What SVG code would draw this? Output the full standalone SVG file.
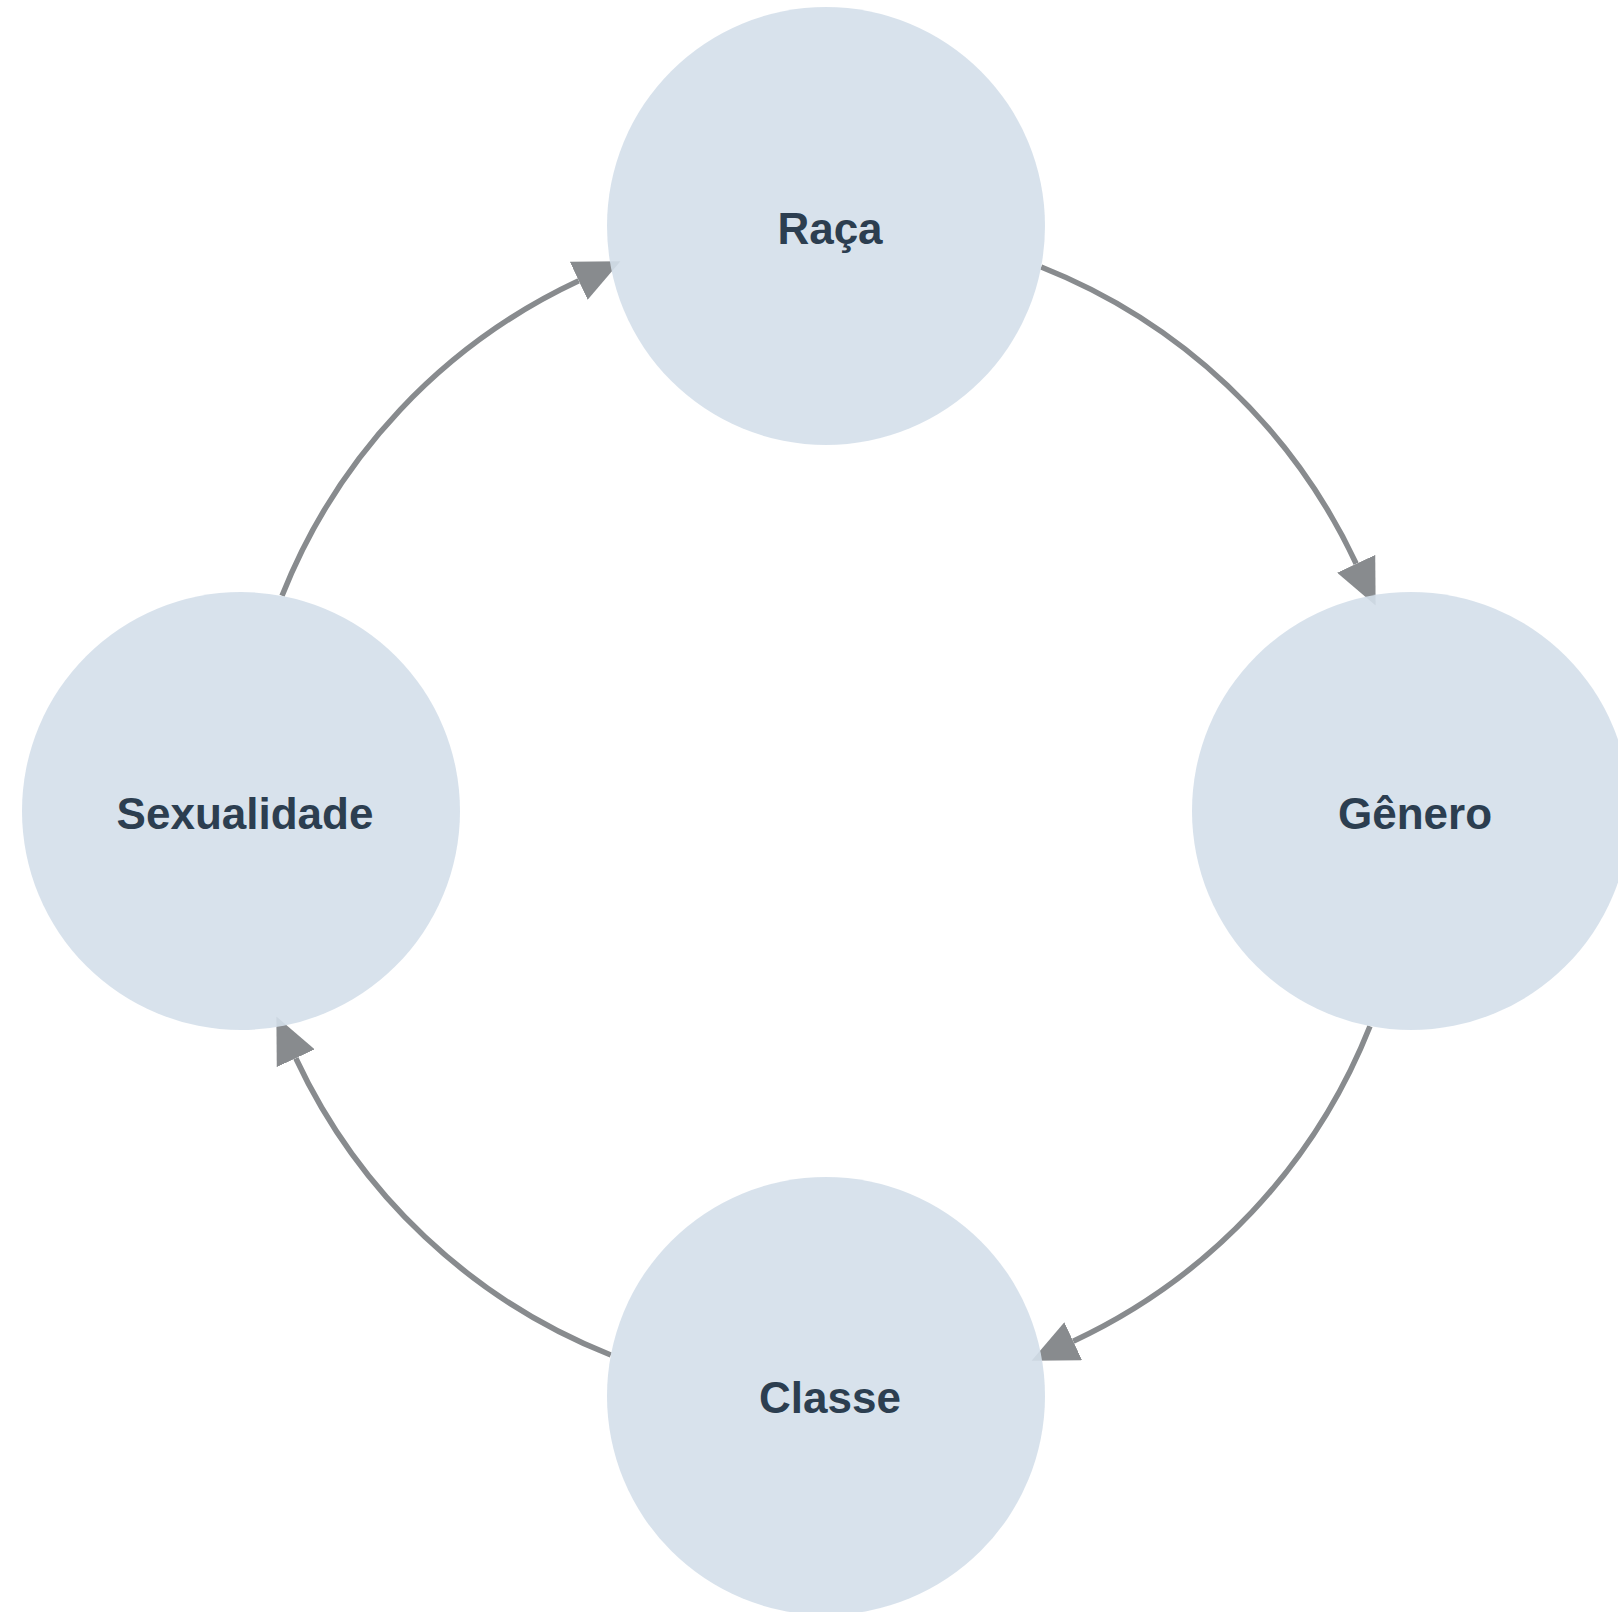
<svg xmlns="http://www.w3.org/2000/svg" width="1618" height="1612" viewBox="0 0 1618 1612">
  <style>
    .node circle { fill: #d4dfea; fill-opacity: 0.9; }
    .node text { font-family: "Liberation Sans", Arial, sans-serif; font-weight: bold; font-size: 44px; fill: #2c3e50; text-anchor: middle; }
    .edge { fill: none; stroke: #888b8e; stroke-width: 5.5; marker-end: url(#arrow); }
  </style>
  <defs>
    <marker id="arrow" viewBox="0 -21 46 42" markerWidth="46" markerHeight="42" refX="0" refY="0" markerUnits="userSpaceOnUse" orient="auto">
      <path d="M0,-21 L46,0 L0,21 z" fill="#888b8e"/>
    </marker>
  </defs>
  <rect width="1618" height="1612" fill="#ffffff"/>
  <g id="connectors">
    <path class="edge" d="M1041.19,267.02 A585,585 0 0 1 1356.19,563.77"/>
    <path class="edge" d="M1369.98,1026.19 A585,585 0 0 1 1073.23,1341.19"/>
    <path class="edge" d="M610.81,1354.98 A585,585 0 0 1 295.81,1058.23"/>
    <path class="edge" d="M282.02,595.81 A585,585 0 0 1 578.77,280.81"/>
  </g>
  <g id="node-raca" class="node">
    <circle cx="826" cy="226" r="219"/>
    <text x="830" y="244">Raça</text>
  </g>
  <g id="node-genero" class="node">
    <circle cx="1411" cy="811" r="219"/>
    <text x="1415" y="829">Gênero</text>
  </g>
  <g id="node-classe" class="node">
    <circle cx="826" cy="1396" r="219"/>
    <text x="830" y="1413">Classe</text>
  </g>
  <g id="node-sexualidade" class="node">
    <circle cx="241" cy="811" r="219"/>
    <text x="245" y="829">Sexualidade</text>
  </g>
</svg>
